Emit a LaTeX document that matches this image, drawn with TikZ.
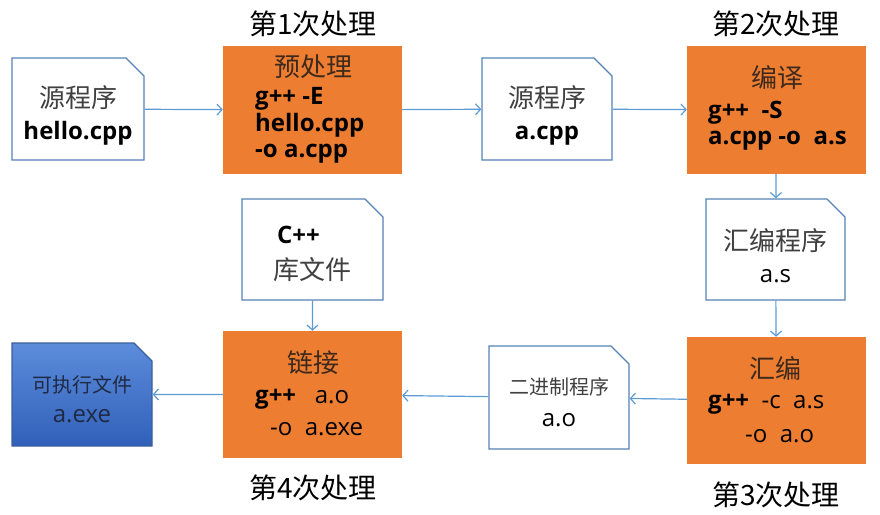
\documentclass[tikz,border=0pt]{standalone}
\usepackage{fontspec}
\setmainfont{Open Sans}
\newfontfamily\cjk{Noto Sans CJK SC}
\usetikzlibrary{arrows.meta,shapes.misc}
\definecolor{steporange}{HTML}{ED7D31}
\definecolor{fileedge}{HTML}{5582B6}
\definecolor{flowblue}{HTML}{5B9BD5}
\definecolor{exetop}{HTML}{5C8CDA}
\definecolor{exebottom}{HTML}{3160BA}
\definecolor{exeedge}{HTML}{3A5F9E}
\definecolor{exeink}{HTML}{1F2A44}
\definecolor{ink}{HTML}{404040}
\definecolor{titleink}{HTML}{3D2A1C}
\newcommand\cnbig{\cjk\fontsize{26}{30}\selectfont}
\newcommand\cnsmall{\cjk\fontsize{20}{24}\selectfont}
\newcommand\pad[1]{\rule{0pt}{#1}}

\begin{document}
\begin{tikzpicture}[
  x=1pt,y=-1pt,
  font=\fontsize{24}{26}\selectfont,
  stepbox/.style={fill=steporange,minimum width=179pt,minimum height=128pt,
                  inner sep=0pt},
  filebox/.style={chamfered rectangle,chamfered rectangle corners=north east,
                  chamfered rectangle xsep=9pt,chamfered rectangle ysep=9pt,
                  draw=fileedge,line width=1.3pt,fill=white,inner sep=0pt,
                  align=center,text=black},
  steptitle/.style={font=\cnbig,text=titleink,inner sep=0pt},
  cmd/.style={font=\fontsize{24}{26}\selectfont,align=left,inner sep=0pt,
              anchor=north west},
  cmdb/.style={cmd,font=\fontsize{24}{26}\selectfont\bfseries},
  pass/.style={font=\cjk\fontsize{28}{32}\selectfont,inner sep=0pt},
  flow/.style={->,>={Straight Barb[length=5pt,width=11pt]},line width=1.2pt,
               draw=flowblue}
]
\useasboundingbox (0,0) rectangle (880,514);

% files and steps
\node[filebox,minimum width=132pt,minimum height=102pt] (src) at (78,109)
  {\pad{35pt}{\cnbig\color{ink}源程序}\\[6pt]\textbf{hello.cpp}};
\node[stepbox] (prep) at (312.5,110) {};
\node[filebox,minimum width=130pt,minimum height=102pt] (cpp) at (547,109)
  {\pad{35pt}{\cnbig\color{ink}源程序}\\[6pt]\textbf{a.cpp}};
\node[stepbox] (comp) at (776.5,110) {};
\node[filebox,minimum width=139pt,minimum height=101pt] (asm) at (775.5,249.5)
  {\pad{34pt}{\cnbig\color{ink}汇编程序}\\[6pt]a.s};
\node[stepbox,minimum height=127pt] (asmb) at (776.5,400.5) {};
\node[filebox,minimum width=140pt,minimum height=103pt] (obj) at (559,397.5)
  {\pad{26pt}{\cnsmall\color{ink}二进制程序}\\[6pt]a.o};
\node[stepbox,minimum height=127pt] (link) at (312.5,394.5) {};
\node[filebox,minimum width=141pt,minimum height=101pt] (lib) at (312.5,249.5)
  {\pad{27pt}\hspace*{-28pt}\textbf{C++}\\[10pt]{\cnbig\color{ink}库文件}};
\node[filebox,draw=exeedge,top color=exetop,bottom color=exebottom,
      text=exeink,minimum width=140pt,minimum height=103pt] (exe) at (82,394.5)
  {\pad{26pt}{\cnsmall 可执行文件}\\[4pt]a.exe};

% texts in the steps
\node[steptitle] (prepT) at (313,67) {预处理};
\node[cmdb] (prepC) at (255,85.8)
  {\strut g++ -E\\\strut hello.cpp\\\strut -o a.cpp};
\node[steptitle] (compT) at (777,78) {编译};
\node[cmdb] (compC) at (708,99.8)
  {\strut g++\ \ -S\\\strut a.cpp -o\ \ a.s};
\node[steptitle] (asmbT) at (775,368) {汇编};
\node[cmd] (asmbC) at (708,389.8)
  {\strut\textbf{g++}\ \ -c\ \ a.s\\[8pt]\hspace*{37pt}\strut -o\ \ a.o};
\node[steptitle] (linkT) at (313,363) {链接};
\node[cmd] (linkC) at (255,384.8)
  {\strut\textbf{g++}\ \ \ a.o\\[6pt]\hspace*{15pt}\strut -o\ \ a.exe};

% passes
\node[pass] (pass1) at (313,24) {第1次处理};
\node[pass] (pass2) at (776,24) {第2次处理};
\node[pass] (pass3) at (776,495) {第3次处理};
\node[pass] (pass4) at (313,488) {第4次处理};

\draw[flow] (src) -- (prep);
\draw[flow] (prep) -- (cpp);
\draw[flow] (cpp) -- (comp);
\draw[flow] (comp) -- (asm);
\draw[flow] (asm) -- (asmb);
\draw[flow] (asmb) -- (obj);
\draw[flow] (obj) -- (link);
\draw[flow] (lib) -- (link);
\draw[flow] (link) -- (exe);
\end{tikzpicture}
\end{document}
